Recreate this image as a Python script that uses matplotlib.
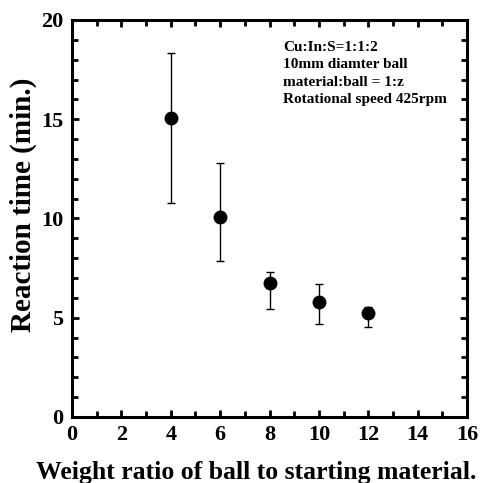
import matplotlib
matplotlib.use("Agg")
import matplotlib.pyplot as plt
from matplotlib.ticker import MultipleLocator

ratio = [4, 6, 8, 10, 12]
time_min = [15.05, 10.1, 6.73, 5.81, 5.25]
err_upper = [18.35, 12.78, 7.32, 6.69, 5.52]
err_lower = [10.8, 7.84, 5.44, 4.69, 4.55]

plt.rcParams['font.family'] = ['Liberation Serif', 'DejaVu Serif']
plt.rcParams['font.weight'] = 'bold'

fig = plt.figure(figsize=(4.81, 4.83), dpi=100)
ax = fig.add_axes([72/481, 1 - 417/483, (467-72)/481, (417-20)/483])

yerr = [[t - l for t, l in zip(time_min, err_lower)],
        [u - t for t, u in zip(time_min, err_upper)]]
ax.errorbar(ratio, time_min, yerr=yerr, fmt='o', color='black', ms=9,
            ecolor='black', elinewidth=1.0, capsize=3, capthick=1.0)

ax.set_xlim(0, 16)
ax.set_ylim(0, 20)
ax.xaxis.set_major_locator(MultipleLocator(2))
ax.xaxis.set_minor_locator(MultipleLocator(1))
ax.yaxis.set_major_locator(MultipleLocator(5))
ax.yaxis.set_minor_locator(MultipleLocator(1))
ax.tick_params(which='both', direction='in', top=True, right=True, width=2)
ax.tick_params(which='major', length=5, labelsize=16, pad=6)
ax.tick_params(which='minor', length=4)
for lab in ax.get_xticklabels() + ax.get_yticklabels():
    lab.set_fontweight('bold')
for s in ax.spines.values():
    s.set_linewidth(2.2)

ax.set_ylabel('Reaction time (min.)', fontsize=21, fontweight='bold',
              va='center', ha='center')
ax.yaxis.set_label_coords((23 - 72) / 395, (417 - 205) / 397)
fig.text(36/481, 1 - 479/483, 'Weight ratio of ball to starting material.',
         fontsize=18.5, fontweight='bold', ha='left', va='baseline')

ax.text(0.534, 0.948, 'Cu:In:S=1:1:2\n10mm diamter ball\nmaterial:ball = 1:z\nRotational speed 425rpm',
        transform=ax.transAxes, fontsize=11, fontweight='bold', va='top', ha='left',
        linespacing=1.45)

fig.savefig('out.png', dpi=100)
